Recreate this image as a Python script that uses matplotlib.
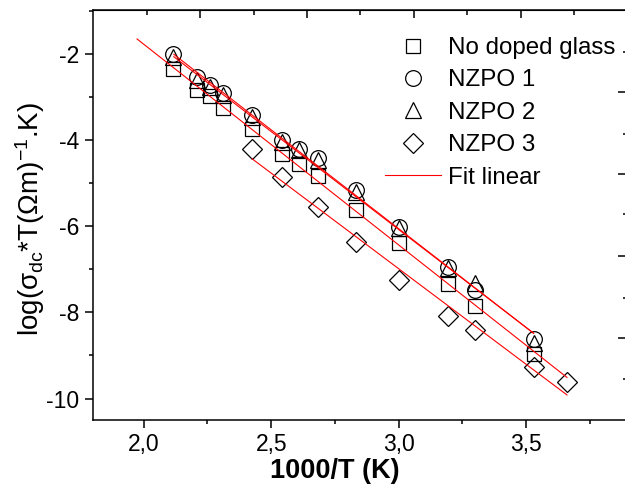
import numpy as np
import matplotlib
matplotlib.use('Agg')
import matplotlib.pyplot as plt
from matplotlib.ticker import FuncFormatter, MultipleLocator

plt.rcParams['font.family'] = ['Liberation Sans', 'DejaVu Sans']
plt.rcParams['mathtext.fontset'] = 'custom'
plt.rcParams['mathtext.rm'] = 'Liberation Sans'
plt.rcParams['mathtext.it'] = 'Liberation Sans'
plt.rcParams['mathtext.bf'] = 'Liberation Sans:bold'
plt.rcParams['axes.unicode_minus'] = False

# data: x = 1000/T
x_all = [2.115, 2.209, 2.262, 2.311, 2.425, 2.543, 2.608, 2.684, 2.834, 3.003, 3.192, 3.298, 3.529]
y_nodoped = [-2.33, -2.84, -2.98, -3.25, -3.73, -4.31, -4.56, -4.83, -5.61, -6.38, -7.35, -7.86, -8.97]
y_nzpo1 = [-2.00, -2.53, -2.72, -2.91, -3.42, -4.00, -4.19, -4.42, -5.15, -6.01, -6.94, -7.47, -8.61]
y_nzpo2 = [-2.06, -2.60, -2.76, -2.95, -3.46, -4.04, -4.23, -4.46, -5.20, -6.03, -6.97, -7.31, -8.72]
x_nzpo3 = [2.425, 2.543, 2.684, 2.834, 3.003, 3.192, 3.298, 3.529, 3.660]
y_nzpo3 = [-4.21, -4.85, -5.56, -6.36, -7.25, -8.08, -8.41, -9.27, -9.61]

# x span of each fitted line
fit_span_nodoped = [1.974, 3.660]
fit_span_nzpo1 = [2.118, 3.529]
fit_span_nzpo2 = [2.118, 3.529]
fit_span_nzpo3 = [2.425, 3.660]

# ticks on the top / right frame (no labels)
top_major = [2.222, 2.641, 3.059, 3.478]
top_minor = [2.013, 2.431, 2.850, 3.268, 3.686]
right_major = [-2.876, -4.772, -6.693, -8.598]
right_minor = [-1.947, -3.842, -5.701, -7.653, -9.558]

fig = plt.figure(figsize=(6.25, 4.97), dpi=100)
ax = fig.add_axes([0.1483, 0.1549, 0.8568, 0.825])

mk = dict(linestyle='none', markerfacecolor='none', markeredgecolor='black', markeredgewidth=0.9)
ax.plot(x_all, y_nodoped, marker='s', markersize=9.6, label='No doped glass', **mk)
ax.plot(x_all, y_nzpo1, marker='o', markersize=11.3, label='NZPO 1', **mk)
ax.plot(x_all, y_nzpo2, marker='^', markersize=12, label='NZPO 2', **mk)
ax.plot(x_nzpo3, y_nzpo3, marker='D', markersize=10.3, label='NZPO 3', **mk)

# linear fits
fits = [(x_all, y_nodoped, fit_span_nodoped),
        (x_all, y_nzpo1, fit_span_nzpo1),
        (x_all, y_nzpo2, fit_span_nzpo2),
        (x_nzpo3, y_nzpo3, fit_span_nzpo3)]
for i, (xs, ys, span) in enumerate(fits):
    p = np.polyfit(xs, ys, 1)
    xx = np.array(span)
    ax.plot(xx, np.polyval(p, xx), color='red', lw=0.8,
            label='Fit linear' if i == 0 else None)

ax.set_xlim(1.8, 3.9)
ax.set_ylim(-10.5, -0.97)
ax.xaxis.set_major_locator(MultipleLocator(0.5))
ax.xaxis.set_minor_locator(MultipleLocator(0.25))
ax.yaxis.set_major_locator(MultipleLocator(2))
ax.yaxis.set_minor_locator(MultipleLocator(1))
ax.xaxis.set_major_formatter(FuncFormatter(lambda v, pos: ('%.1f' % v).replace('.', ',')))
ax.yaxis.set_major_formatter(FuncFormatter(lambda v, pos: '%d' % v))
ax.tick_params(which='major', direction='out', length=6, width=1.1, labelsize=16.5, top=False, right=False)
ax.tick_params(which='minor', direction='out', length=3, width=1.1, top=False, right=False)
for s in ax.spines.values():
    s.set_linewidth(1.1)

sec_x = ax.secondary_xaxis('top')
sec_x.set_xticks(top_major)
sec_x.set_xticks(top_minor, minor=True)
sec_x.tick_params(which='major', direction='in', length=6, width=1.1, labeltop=False)
sec_x.tick_params(which='minor', direction='in', length=3.5, width=1.1)
sec_y = ax.secondary_yaxis('right')
sec_y.set_yticks(right_major)
sec_y.set_yticks(right_minor, minor=True)
sec_y.tick_params(which='major', direction='in', length=7, width=1.1, labelright=False)
sec_y.tick_params(which='minor', direction='in', length=3.5, width=1.1)

ax.set_xlabel('1000/T (K)', fontsize=19.5, fontweight='bold')
ax.xaxis.set_label_coords(0.452, -0.092)
ax.set_ylabel(r'log($\mathregular{\sigma_{dc}}$*T($\mathregular{\Omega}$m)$\mathregular{^{-1}}$.K)', fontsize=20)
ax.yaxis.set_label_coords(-0.085, 0.49)

ax.legend(loc='upper left', bbox_to_anchor=(385 / 625, 1 - 37 / 497), bbox_transform=fig.transFigure,
          frameon=False, fontsize=17.4, handlelength=2.3, handletextpad=0.3,
          labelspacing=0.43, borderpad=0, borderaxespad=0)

fig.savefig('out.png', dpi=100)
